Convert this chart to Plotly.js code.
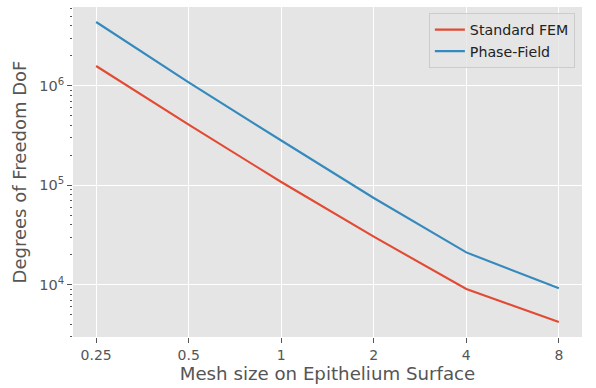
<!DOCTYPE html>
<html>
<head>
<meta charset="utf-8">
<script src="https://cdn.plot.ly/plotly-3.0.1.min.js"></script>
<style>
  html, body { margin: 0; padding: 0; background: #ffffff; }
  #chart { width: 596px; height: 388px; }
</style>
</head>
<body>
<div id="chart"></div>
<script>
// Mesh sizes (x) and degrees of freedom for each method (y)
const meshSizes = [0.25, 0.5, 1, 2, 4, 8];
const meshTickText = ['0.25', '0.5', '1', '2', '4', '8'];
const standardFEM = [1.58e6, 4.07e5, 1.08e5, 3.05e4, 9.1e3, 4.24e3];
const phaseField = [4.37e6, 1.08e6, 2.82e5, 7.46e4, 2.12e4, 9.27e3];

const yMajorVals = [1e4, 1e5, 1e6];
const yMajorText = ['10<sup>4</sup>', '10<sup>5</sup>', '10<sup>6</sup>'];

// minor ticks at 2..9 × each decade
const yMinorVals = [];
[1e3, 1e4, 1e5, 1e6].forEach(function (d) {
  for (let m = 2; m <= 9; m++) yMinorVals.push(m * d);
});

const textGray = '#555555';
const font = 'DejaVu Sans, sans-serif';

// axis ranges padded by 5% of the log data span on each side
function paddedLogRange(vals, base) {
  const lg = vals.map(v => Math.log(v) / Math.log(base));
  const lo = Math.min.apply(null, lg), hi = Math.max.apply(null, lg);
  const pad = 0.05 * (hi - lo);
  return [lo - pad, hi + pad].map(v => v * Math.log10(base));
}

const traces = [
  {
    x: meshSizes, y: standardFEM, name: 'Standard FEM',
    type: 'scatter', mode: 'lines',
    line: { color: '#E24A33', width: 2.1 }
  },
  {
    x: meshSizes, y: phaseField, name: 'Phase-Field',
    type: 'scatter', mode: 'lines',
    line: { color: '#348ABD', width: 2.1 }
  }
];

const layout = {
  width: 596, height: 388,
  margin: { l: 73, r: 14, t: 7, b: 51 },
  paper_bgcolor: '#ffffff',
  plot_bgcolor: '#E5E5E5',
  font: { family: font, color: textGray, size: 13.9 },
  showlegend: true,
  legend: {
    x: 0.986, y: 0.982, xanchor: 'right', yanchor: 'top',
    bgcolor: 'rgba(229,229,229,0.8)',
    bordercolor: '#cccccc', borderwidth: 1,
    itemwidth: 30,
    font: { family: font, size: 14.2, color: '#222222' }
  },
  xaxis: {
    type: 'log',
    range: paddedLogRange(meshSizes, 2),
    tickmode: 'array', tickvals: meshSizes, ticktext: meshTickText,
    ticks: 'outside', ticklen: 5, tickwidth: 1, tickcolor: textGray,
    tickfont: { family: font, size: 14, color: textGray },
    showgrid: true, gridcolor: '#ffffff', gridwidth: 1.2,
    zeroline: false, showline: false,
    title: { text: 'Mesh size on Epithelium Surface', standoff: 5,
             font: { family: font, size: 18.2, color: textGray } }
  },
  yaxis: {
    type: 'log',
    range: paddedLogRange(standardFEM.concat(phaseField), 10),
    tickmode: 'array', tickvals: yMajorVals, ticktext: yMajorText,
    ticks: 'outside', ticklen: 5, tickwidth: 1, tickcolor: textGray,
    tickfont: { family: font, size: 14.5, color: textGray },
    showgrid: true, gridcolor: '#ffffff', gridwidth: 1.2,
    zeroline: false, showline: false,
    minor: { tickmode: 'array', tickvals: yMinorVals, ticks: 'outside',
             ticklen: 2.5, tickwidth: 1, tickcolor: textGray, showgrid: false },
    title: { text: 'Degrees of Freedom DoF', standoff: 7,
             font: { family: font, size: 18, color: textGray } }
  }
};

Plotly.newPlot('chart', traces, layout, { displayModeBar: false, staticPlot: true });
</script>
</body>
</html>
